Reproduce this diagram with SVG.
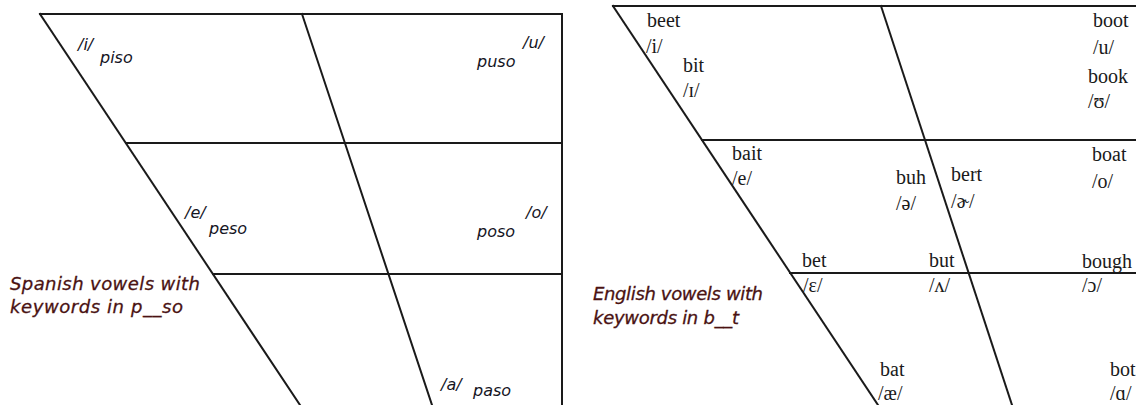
<svg xmlns="http://www.w3.org/2000/svg" width="1136" height="405" viewBox="0 0 1136 405">
<style>
.ln{stroke:#1a1a1a;stroke-width:2;fill:none;stroke-linecap:square}
.sp{font-family:"DejaVu Sans",Verdana,sans-serif;font-style:italic;font-size:16px;fill:#15151f}
.cap{font-family:"DejaVu Sans",Verdana,sans-serif;font-style:italic;font-size:18px;fill:#4a1212;stroke:#4a1212;stroke-width:0.3}
.en{font-family:"Liberation Serif","Times New Roman",serif;font-size:20px;fill:#1a1a1a}
</style>
<rect width="1136" height="405" fill="#fff"/>
<g id="connectors">
<!-- Spanish chart -->
<polyline class="ln" points="40,14 562,14 562,405"/>
<line class="ln" x1="40" y1="14" x2="300" y2="405"/>
<line class="ln" x1="302" y1="14" x2="432" y2="405"/>
<line class="ln" x1="126" y1="143" x2="562" y2="143"/>
<line class="ln" x1="213" y1="274" x2="562" y2="274"/>
<!-- English chart -->
<line class="ln" x1="613" y1="6" x2="1136" y2="6"/>
<line class="ln" x1="613" y1="6" x2="878" y2="405"/>
<line class="ln" x1="881" y1="6" x2="1012" y2="405"/>
<line class="ln" x1="702" y1="140" x2="1136" y2="140"/>
<line class="ln" x1="790" y1="273" x2="1136" y2="273"/>
</g>
<g id="spanish">
<g id="sp-i"><text class="sp" x="78" y="50">/i/</text><text class="sp" x="100" y="63">piso</text></g>
<g id="sp-u"><text class="sp" x="523" y="48">/u/</text><text class="sp" x="477" y="67">puso</text></g>
<g id="sp-e"><text class="sp" x="185" y="218">/e/</text><text class="sp" x="209" y="234">peso</text></g>
<g id="sp-o"><text class="sp" x="526" y="218">/o/</text><text class="sp" x="477" y="237">poso</text></g>
<g id="sp-a"><text class="sp" x="441" y="390">/a/</text><text class="sp" x="473" y="396">paso</text></g>
<g id="sp-caption"><text class="cap" x="10" y="290" textLength="190" lengthAdjust="spacing">Spanish vowels with</text><text class="cap" x="10" y="313" textLength="173" lengthAdjust="spacing">keywords in p__so</text></g>
</g>
<g id="english">
<g id="en-i"><text class="en" x="647" y="27">beet</text><text class="en" x="646" y="53">/i/</text></g>
<g id="en-I"><text class="en" x="683" y="72">bit</text><text class="en" x="683" y="97">/ɪ/</text></g>
<g id="en-u"><text class="en" x="1093" y="27">boot</text><text class="en" x="1093" y="54">/u/</text></g>
<g id="en-U"><text class="en" x="1088" y="83">book</text><text class="en" x="1088" y="108">/ʊ/</text></g>
<g id="en-e"><text class="en" x="732" y="160">bait</text><text class="en" x="732" y="185">/e/</text></g>
<g id="en-schwa"><text class="en" x="896" y="184">buh</text><text class="en" x="896" y="210">/ə/</text></g>
<g id="en-er"><text class="en" x="951" y="181">bert</text><text class="en" x="951" y="208">/ɚ/</text></g>
<g id="en-o"><text class="en" x="1092" y="161">boat</text><text class="en" x="1092" y="188">/o/</text></g>
<g id="en-E"><text class="en" x="802" y="267">bet</text><text class="en" x="803" y="292">/ɛ/</text></g>
<g id="en-V"><text class="en" x="929" y="267">but</text><text class="en" x="929" y="292">/ʌ/</text></g>
<g id="en-O"><text class="en" x="1082" y="268">bough</text><text class="en" x="1082" y="292">/ɔ/</text></g>
<g id="en-ae"><text class="en" x="880" y="376">bat</text><text class="en" x="878" y="400">/æ/</text></g>
<g id="en-a"><text class="en" x="1110" y="376">bot</text><text class="en" x="1110" y="400">/ɑ/</text></g>
<g id="en-caption"><text class="cap" x="593" y="300" textLength="170" lengthAdjust="spacing">English vowels with</text><text class="cap" x="593" y="324" textLength="146" lengthAdjust="spacing">keywords in b__t</text></g>
</g>
</svg>
